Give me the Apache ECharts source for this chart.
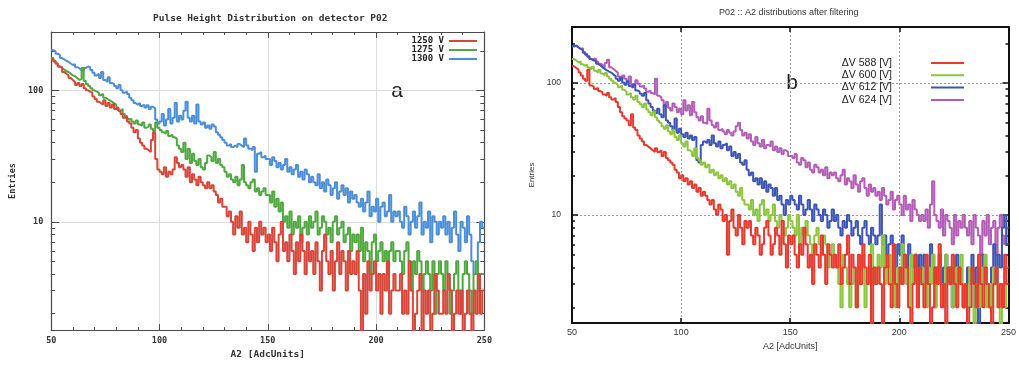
<!DOCTYPE html>
<html><head><meta charset="utf-8">
<script src="https://cdn.jsdelivr.net/npm/echarts@6/dist/echarts.min.js"></script>
<style>
html,body{margin:0;padding:0;background:#fff;width:1019px;height:365px;overflow:hidden;}
#a{position:absolute;left:0;top:0;width:495px;height:365px;overflow:hidden;}
#b{position:absolute;left:505px;top:0;width:514px;height:365px;overflow:hidden;}
</style></head><body>
<div id="a"></div><div id="b"></div>
<script>
// ---------- data ----------
const BIN_START = 50;
const BIN_WIDTH = 1;

// Panel a
const TITLE_A = 'Pulse Height Distribution on detector P02';
const A_NAMES = ['1250 V', '1275 V', '1300 V'];
const A_1250 = [
172,166,160,152,150,138,134,130,124,120,116,110,114,108,112,104,100,98,96,90,
86,82,80,78,84,76,80,74,78,72,74,70,66,62,64,58,56,52,48,50,
43,40,38,36,35,34,42,48,30,25,24,23,26,22,24,23,25,31,28,26,
27,25,22,26,20,23,21,19,22,20,19,18,20,18,19,17,16,14,15,13,
13,11,12,10,8,11,9,12,8,9,7,10,8,6,9,7,10,8,9,7,
8,6,9,7,5,8,10,6,7,5,8,6,4,7,5,8,6,4,7,5,
6,4,7,5,3,6,8,5,4,6,3,5,7,4,6,5,3,6,4,5,
4,6,3,1,4,2,5,3,4,5,3,4,2,4,3,5,2,3,4,3,
3,4,2,3,2,5,3,1,2,3,4,1,3,2,3,1,2,4,3,2,
2,3,2,4,3,1,2,3,2,3,1,2,3,2,1,3,2,4,2,3];
const A_1275 = [
176,168,160,152,148,144,140,138,134,130,128,124,120,122,148,118,112,108,104,100,
98,96,92,94,88,86,84,82,80,78,74,70,72,66,62,60,61,58,56,59,
55,54,57,52,53,55,51,49,57,52,50,48,47,49,45,46,44,43,38,36,
34,40,30,36,28,33,29,27,30,26,25,28,32,31,29,34,28,30,27,26,
24,22,23,21,20,22,19,21,27,20,19,18,20,21,17,18,16,17,18,16,
16,14,17,13,15,12,14,10,11,9,12,8,10,9,11,7,9,10,8,11,
9,10,12,8,9,11,10,8,9,7,10,11,8,9,10,7,8,9,6,8,
7,8,6,9,5,7,6,4,7,8,5,6,7,5,6,4,6,7,5,6,
6,5,4,6,7,5,3,5,4,6,5,3,4,5,4,3,5,2,4,5,
4,3,5,4,2,3,4,5,3,2,4,5,4,3,2,4,5,3,4,4];
const A_1300 = [
202,198,190,186,176,172,168,165,160,156,158,150,147,142,140,148,152,150,143,136,
130,134,124,138,120,116,126,114,112,108,104,110,100,96,98,94,88,84,80,78,
80,76,78,74,77,72,75,73,60,56,58,66,54,60,72,56,62,80,58,64,
60,70,82,62,58,64,56,78,58,55,57,52,54,51,55,53,48,46,44,42,
40,38,39,37,38,37,39,38,37,43,38,36,35,37,24,33,34,31,32,30,
30,27,31,29,26,28,25,27,30,24,26,23,25,27,22,24,21,25,23,20,
22,20,19,23,18,20,17,21,19,16,18,20,15,17,19,16,18,14,17,15,
16,14,13,15,12,14,17,11,13,12,15,10,13,14,11,12,16,10,12,11,
12,10,9,13,11,8,10,12,9,11,14,8,10,9,12,7,11,10,8,10,
9,11,8,10,7,9,12,8,6,10,9,7,11,8,5,4,4,7,10,9];

// Panel b
const TITLE_B = 'P02 :: A2 distributions after filtering';
const B_NAMES = ['\u0394V 588 [V]', '\u0394V 600 [V]', '\u0394V 612 [V]', '\u0394V 624 [V]'];
const B_588 = [
134,130,126,120,114,108,104,126,96,94,90,92,87,85,82,80,84,78,75,77,
72,66,60,56,54,52,48,58,46,44,40,38,36,34,33,32,31,30,32,30,
31,28,30,27,26,25,24,22,21,19,20,18,19,17,18,16,17,15,16,14,
15,14,13,12,13,11,10,12,11,9,10,5,9,11,8,7,10,8,6,9,
8,9,7,6,8,7,5,6,8,9,7,5,6,8,7,5,9,6,4,7,
6,7,5,4,6,5,8,6,4,5,3,6,5,4,7,5,3,6,5,4,
5,4,6,3,4,5,7,3,5,4,2,5,3,6,4,3,5,1,4,3,
4,3,1,4,5,3,2,6,3,2,4,3,5,4,2,1,3,5,2,4,
3,2,5,3,1,2,4,3,6,2,3,1,4,3,5,3,2,4,3,2,
3,1,2,4,3,2,5,3,2,4,3,2,1,3,4,2,3,2,5,3];
const B_600 = [
152,148,143,146,139,135,138,131,127,133,124,120,126,118,114,119,112,108,104,100,
97,93,96,89,86,82,84,78,75,80,72,69,66,70,63,60,57,61,55,52,
50,47,45,48,43,41,44,39,37,40,35,33,36,31,30,28,32,27,26,24,
25,23,24,21,22,20,21,19,20,18,19,17,18,16,17,15,14,16,13,12,
12,11,13,10,11,9,12,13,10,11,9,10,12,9,8,10,9,7,8,10,
9,8,7,10,6,8,7,9,7,6,5,7,8,6,5,7,6,4,5,6,
5,4,3,2,5,4,3,2,3,4,2,3,4,5,2,3,4,6,3,4,
5,4,7,3,4,5,3,5,2,4,3,6,4,3,2,5,3,4,2,3,
4,3,2,4,3,5,2,3,4,3,2,5,3,4,2,3,4,3,5,2,
3,2,4,3,1,3,2,4,3,5,2,3,2,4,3,2,1,3,2,4];
const B_612 = [
190,192,186,182,178,170,164,158,152,149,146,140,136,132,128,125,122,120,116,113,
108,104,110,101,97,103,95,92,97,88,86,83,80,84,74,70,66,62,59,64,
58,55,68,52,50,47,44,54,42,45,41,39,42,38,40,37,39,26,25,34,
36,35,37,34,40,35,33,36,32,34,35,31,33,28,30,27,29,25,24,26,
22,20,21,18,19,17,19,16,18,15,17,16,14,16,13,14,12,10,13,12,
14,13,12,11,14,12,10,11,13,11,9,12,11,10,9,11,10,8,9,11,
9,10,8,7,9,8,10,9,7,8,9,7,6,8,9,7,6,8,7,6,
7,12,6,7,5,6,7,5,4,6,5,7,5,4,6,5,4,5,3,5,
4,5,3,4,6,5,2,4,5,3,4,5,3,4,2,3,5,4,3,2,
3,4,3,5,2,4,1,3,5,4,3,2,4,6,3,5,4,8,10,6];
const B_624 = [
190,192,186,181,184,172,166,160,152,147,153,146,140,138,131,142,150,132,128,124,
120,112,106,114,108,103,112,98,96,105,99,94,96,91,86,88,84,82,108,80,
78,74,68,72,65,62,70,66,60,64,58,74,62,68,57,72,60,55,52,56,
50,49,64,52,48,46,50,44,45,43,41,44,42,40,43,47,50,44,40,42,
38,41,36,34,39,35,33,37,32,34,33,36,31,33,30,32,29,31,30,28,
28,27,29,25,24,27,26,23,25,22,21,24,23,21,22,20,23,19,21,20,
21,19,18,20,22,17,19,18,16,20,17,15,18,19,16,14,17,15,16,14,
15,13,16,14,12,13,15,11,13,14,12,10,14,11,12,9,13,11,10,9,
10,9,11,8,12,18,10,9,8,11,7,10,9,8,6,10,7,9,8,10,
8,7,9,6,10,8,7,5,9,7,10,6,8,9,5,8,10,7,6,8];

// ---------- helpers ----------
function steps(vals) {
  const d = vals.map((v, i) => [BIN_START + i * BIN_WIDTH, v]);
  d.push([BIN_START + vals.length * BIN_WIDTH, vals[vals.length - 1]]);
  return d;
}
function stepSeries(name, vals, color, width) {
  return { name: name, type: 'line', step: 'end', data: steps(vals), symbol: 'none', showSymbol: false,
           clip: true, silent: true, lineStyle: { color: color, width: width }, itemStyle: { color: color } };
}
const MONO = '"DejaVu Sans Mono","Liberation Mono",monospace';
const SANS = '"Liberation Sans","Noto Sans",Arial,sans-serif';

// ---------- panel a ----------
const colA = { '1250 V': '#d8463a', '1275 V': '#4fa940', '1300 V': '#4c8fd8' };
const axisColA = '#4a4a4a';
const chartA = echarts.init(document.getElementById('a'));
chartA.setOption({
  animation: false,
  backgroundColor: '#ffffff',
  title: { text: TITLE_A, left: 153, top: 14, padding: 0,
           textStyle: { fontFamily: MONO, fontWeight: 'bold', fontSize: 9.5, color: '#333' } },
  legend: { data: A_NAMES, orient: 'vertical', right: 18, top: 36.5, align: 'right', padding: 0,
            icon: 'rect', itemGap: 0, itemWidth: 28, itemHeight: 2,
            textStyle: { fontFamily: MONO, fontWeight: 'bold', fontSize: 9, lineHeight: 9, color: '#222' } },
  grid: { left: 51, top: 32, width: 436, height: 302 },
  xAxis: [
    { type: 'value', min: 50, max: 250, interval: 50, position: 'bottom',
      name: 'A2 [AdcUnits]', nameLocation: 'middle', nameGap: 18,
      nameTextStyle: { fontFamily: MONO, fontWeight: 'bold', fontSize: 9.5, color: '#333' },
      axisLine: { lineStyle: { color: axisColA, width: 1.2 } },
      axisTick: { inside: true, length: 6, lineStyle: { color: axisColA } },
      minorTick: { show: true, splitNumber: 5, length: 3, lineStyle: { color: axisColA } },
      axisLabel: { margin: 6, fontFamily: MONO, fontWeight: 'bold', fontSize: 8.5, color: '#333' },
      splitLine: { show: true, lineStyle: { color: '#dcdcdc', width: 1 } } },
    { type: 'value', min: 50, max: 250, interval: 50, position: 'top',
      axisLine: { lineStyle: { color: axisColA, width: 1.2 } },
      axisTick: { inside: true, length: 6, lineStyle: { color: axisColA } },
      minorTick: { show: true, splitNumber: 5, length: 3, lineStyle: { color: axisColA } },
      axisLabel: { show: false }, splitLine: { show: false } }
  ],
  yAxis: [
    { type: 'log', logBase: 10, min: 1.5, max: 278, position: 'left',
      name: 'Entries', nameLocation: 'middle', nameGap: 33,
      nameTextStyle: { fontFamily: MONO, fontWeight: 'bold', fontSize: 8.5, color: '#333' },
      axisLine: { lineStyle: { color: axisColA, width: 1.2 } },
      axisTick: { inside: true, length: 8, lineStyle: { color: axisColA } },
      minorTick: { show: true, splitNumber: 9, length: 4, lineStyle: { color: axisColA } },
      axisLabel: { margin: 8, showMinLabel: false, showMaxLabel: false,
                   fontFamily: MONO, fontWeight: 'bold', fontSize: 8.5, color: '#333' },
      splitLine: { show: true, lineStyle: { color: '#dcdcdc', width: 1 } } },
    { type: 'log', logBase: 10, min: 1.5, max: 278, position: 'right',
      axisLine: { lineStyle: { color: axisColA, width: 1.2 } },
      axisTick: { inside: true, length: 8, lineStyle: { color: axisColA } },
      minorTick: { show: true, splitNumber: 9, length: 4, lineStyle: { color: axisColA } },
      axisLabel: { show: false }, splitLine: { show: false } }
  ],
  graphic: [
    { type: 'text', x: 397, y: 91, style: { text: 'a', fontFamily: SANS, fontSize: 21, fill: '#222', align: 'center', verticalAlign: 'middle' } }
  ],
  series: [
    stepSeries('1300 V', A_1300, colA['1300 V'], 2),
    stepSeries('1275 V', A_1275, colA['1275 V'], 2),
    stepSeries('1250 V', A_1250, colA['1250 V'], 2)
  ]
});

// ---------- panel b ----------
const colB = ['#e8392e', '#8cc63f', '#3d55b5', '#b45cb8'];
const chartB = echarts.init(document.getElementById('b'));
chartB.setOption({
  animation: false,
  backgroundColor: '#ffffff',
  title: { text: TITLE_B, left: 214, top: 8, padding: 0,
           textStyle: { fontFamily: SANS, fontWeight: 'normal', fontSize: 9, color: '#333' } },
  legend: { data: B_NAMES, orient: 'vertical', right: 55, top: 57, align: 'right', padding: 0,
            icon: 'rect', itemGap: 0.3, itemWidth: 33, itemHeight: 2,
            textStyle: { fontFamily: SANS, fontSize: 10.5, lineHeight: 12, color: '#222', padding: [0, 34, 0, 0] } },
  grid: { left: 67, top: 27, width: 446, height: 296 },
  xAxis: [
    { type: 'value', min: 50, max: 250, interval: 50, position: 'bottom',
      name: 'A2 [AdcUnits]', nameLocation: 'middle', nameGap: 19,
      nameTextStyle: { fontFamily: SANS, fontSize: 9, color: '#333' },
      axisLine: { lineStyle: { color: '#111', width: 2 } },
      axisTick: { inside: true, length: 5, lineStyle: { color: '#111', width: 1.5 } },
      axisLabel: { margin: 5, fontFamily: SANS, fontSize: 9, color: '#333' },
      splitLine: { show: true, lineStyle: { color: '#9a9a9a', width: 1, type: [2, 2] } } },
    { type: 'value', min: 50, max: 250, interval: 50, position: 'top',
      axisLine: { lineStyle: { color: '#111', width: 2 } },
      axisTick: { inside: true, length: 5, lineStyle: { color: '#111', width: 1.5 } },
      axisLabel: { show: false }, splitLine: { show: false } }
  ],
  yAxis: [
    { type: 'log', logBase: 10, min: 1.52, max: 266, position: 'left',
      name: 'Entries', nameLocation: 'middle', nameGap: 36,
      nameTextStyle: { fontFamily: SANS, fontSize: 8, color: '#333' },
      axisLine: { lineStyle: { color: '#111', width: 2 } },
      axisTick: { inside: true, length: 6, lineStyle: { color: '#111', width: 1.5 } },
      minorTick: { show: true, splitNumber: 9, length: 3, lineStyle: { color: '#111', width: 1.5 } },
      axisLabel: { margin: 11, showMinLabel: false, showMaxLabel: false, fontFamily: SANS, fontSize: 8.5, color: '#333' },
      splitLine: { show: true, lineStyle: { color: '#9a9a9a', width: 1, type: [2, 2] } } },
    { type: 'log', logBase: 10, min: 1.52, max: 266, position: 'right',
      axisLine: { lineStyle: { color: '#111', width: 2 } },
      axisTick: { inside: true, length: 6, lineStyle: { color: '#111', width: 1.5 } },
      minorTick: { show: true, splitNumber: 9, length: 3, lineStyle: { color: '#111', width: 1.5 } },
      axisLabel: { show: false }, splitLine: { show: false } }
  ],
  graphic: [
    { type: 'text', x: 287, y: 83, style: { text: 'b', fontFamily: SANS, fontSize: 21, fill: '#222', align: 'center', verticalAlign: 'middle' } }
  ],
  series: [
    stepSeries(B_NAMES[3], B_624, colB[3], 2),
    stepSeries(B_NAMES[2], B_612, colB[2], 2),
    stepSeries(B_NAMES[1], B_600, colB[1], 2),
    stepSeries(B_NAMES[0], B_588, colB[0], 2)
  ]
});
</script>
</body></html>
